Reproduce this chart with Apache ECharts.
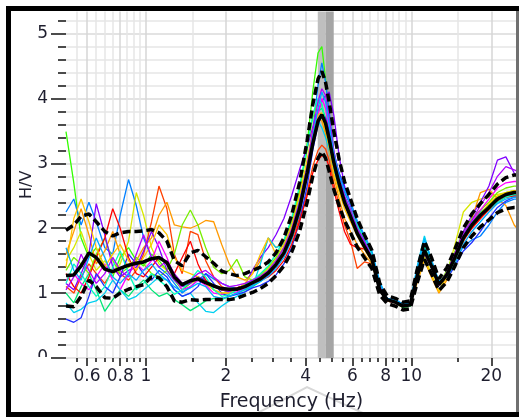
<!DOCTYPE html>
<html>
<head>
<meta charset="utf-8">
<script src="https://cdn.jsdelivr.net/npm/echarts@6/dist/echarts.min.js"></script>
<style>
  html, body { margin: 0; padding: 0; background: #fff; }
  #chart { width: 519px; height: 417px; }
</style>
</head>
<body>
<div id="chart"></div>
<script>
// Frequencies (Hz) at which every H/V curve is sampled
const freq = [0.50,0.535,0.57,0.61,0.65,0.70,0.75,0.80,0.86,0.92,
  0.98,1.05,1.12,1.20,1.28,1.37,1.47,1.57,1.68,1.80,
  1.93,2.06,2.20,2.36,2.52,2.70,2.89,3.09,3.31,3.54,
  3.79,4.05,4.25,4.45,4.60,4.75,4.90,5.10,5.35,5.60,
  5.90,6.25,6.65,7.10,7.60,8.10,8.70,9.30,9.90,10.5,
  11.2,11.9,12.7,13.6,14.6,15.7,16.9,18.2,19.6,21.1,
  22.7,24.4,25.0];

// Average H/V curve and its +/- one standard deviation curves
const meanHV = [1.27,1.28,1.42,1.62,1.55,1.37,1.33,1.38,1.43,1.46,
  1.48,1.53,1.55,1.47,1.25,1.13,1.19,1.22,1.16,1.11,
  1.07,1.06,1.06,1.10,1.16,1.22,1.31,1.44,1.62,1.90,
  2.30,2.85,3.30,3.65,3.75,3.62,3.38,3.02,2.68,2.40,
  2.18,1.92,1.72,1.52,1.05,0.90,0.86,0.80,0.82,1.25,
  1.66,1.42,1.13,1.28,1.55,1.85,2.05,2.20,2.32,2.45,
  2.52,2.55,2.55];
const upperHV = [1.97,2.05,2.18,2.22,2.10,1.95,1.88,1.93,1.95,1.95,
  1.96,1.98,1.93,1.80,1.50,1.42,1.62,1.66,1.56,1.46,
  1.34,1.30,1.27,1.30,1.35,1.40,1.48,1.62,1.85,2.20,
  2.70,3.35,3.90,4.30,4.42,4.25,3.95,3.50,3.05,2.72,
  2.45,2.15,1.90,1.66,1.15,0.96,0.92,0.86,0.88,1.35,
  1.80,1.55,1.22,1.39,1.68,2.00,2.22,2.38,2.52,2.68,
  2.78,2.82,2.82];
const lowerHV = [0.80,0.79,0.95,1.20,1.10,0.93,0.92,1.00,1.06,1.10,
  1.13,1.25,1.24,1.10,0.88,0.86,0.90,0.89,0.90,0.90,
  0.90,0.90,0.92,0.97,1.01,1.07,1.15,1.27,1.42,1.63,
  1.95,2.40,2.80,3.08,3.18,3.08,2.88,2.60,2.34,2.12,
  1.93,1.71,1.55,1.38,0.97,0.84,0.80,0.74,0.76,1.15,
  1.52,1.30,1.04,1.17,1.42,1.70,1.88,2.02,2.13,2.24,
  2.30,2.32,2.32];

// H/V curves of the individual time windows
const win01 = [3.49,2.70,1.85,1.55,1.70,1.40,1.25,1.55,1.70,1.50,
  1.42,1.60,1.50,1.35,1.20,1.05,1.15,1.25,1.20,1.12,
  1.05,1.02,1.05,1.12,1.18,1.25,1.35,1.50,1.70,2.05,
  2.55,3.30,4.10,4.70,4.80,4.30,3.70,3.10,2.70,2.45,
  2.25,2.00,1.80,1.55,1.08,0.88,0.85,0.78,0.80,1.22,
  1.60,1.40,1.12,1.30,1.58,1.90,2.10,2.22,2.35,2.48,
  2.55,2.58,2.58];
const win02 = [2.25,2.45,2.05,2.40,2.10,1.70,1.60,2.20,2.75,2.35,
  1.85,1.55,1.40,1.30,1.15,1.00,1.10,1.20,1.30,1.22,
  1.15,1.10,1.08,1.12,1.18,1.24,1.30,1.42,1.60,1.85,
  2.20,2.80,3.50,4.20,4.55,4.25,3.80,3.20,2.80,2.55,
  2.35,2.05,1.85,1.62,1.15,0.92,0.90,0.82,0.84,1.35,
  1.85,1.48,1.15,1.25,1.48,1.72,1.82,1.88,2.05,2.25,
  2.40,2.45,2.45];
const win03 = [1.50,1.70,1.95,1.60,1.35,1.50,1.30,1.45,1.80,2.55,
  2.20,1.70,1.45,1.35,1.22,1.10,1.15,1.20,1.15,1.05,
  1.00,1.02,1.05,1.10,1.15,1.25,1.38,1.52,1.72,2.00,
  2.40,2.95,3.40,3.70,3.72,3.50,3.25,2.92,2.62,2.38,
  2.15,1.92,1.72,1.50,1.05,0.88,0.85,0.80,0.83,1.20,
  1.55,1.30,1.02,1.30,1.75,2.25,2.40,2.45,2.48,2.52,
  2.55,2.58,2.58];
const win04 = [1.10,1.00,1.25,1.45,1.30,1.15,1.35,1.30,1.20,1.35,
  1.60,2.10,2.65,2.30,1.60,1.30,1.95,1.90,1.50,1.25,
  1.10,1.05,1.08,1.12,1.18,1.22,1.30,1.42,1.58,1.82,
  2.15,2.55,2.95,3.20,3.28,3.22,3.05,2.70,2.35,2.05,
  1.80,1.38,1.48,1.45,1.08,0.88,0.86,0.80,0.83,1.22,
  1.60,1.42,1.15,1.28,1.52,1.80,2.00,2.15,2.28,2.40,
  2.48,2.50,2.50];
const win05 = [1.60,1.95,2.30,1.90,1.45,1.65,1.95,1.60,1.40,1.50,
  1.70,1.85,2.20,2.40,2.05,2.02,2.00,2.05,2.12,2.10,
  1.75,1.45,1.25,1.20,1.30,1.50,1.85,1.70,1.80,2.00,
  2.45,3.00,3.45,3.70,3.65,3.45,3.20,2.80,2.45,2.15,
  1.95,1.75,1.60,1.45,1.05,0.88,0.85,0.78,0.82,1.15,
  1.50,1.25,1.00,1.20,1.45,1.80,2.15,2.55,2.60,2.45,
  2.35,2.05,2.00];
const win06 = [1.35,1.55,1.45,1.30,1.60,1.85,1.50,1.30,1.40,1.55,
  1.45,1.30,1.25,1.35,1.60,2.05,2.28,2.05,1.70,1.40,
  1.30,1.35,1.52,1.25,1.20,1.28,1.40,1.55,1.78,2.10,
  2.60,3.20,3.70,3.95,3.90,3.65,3.35,2.95,2.60,2.40,
  2.20,1.98,1.78,1.58,1.10,0.90,0.87,0.80,0.82,1.25,
  1.65,1.40,1.12,1.35,1.65,1.95,2.15,2.28,2.40,2.55,
  2.62,2.65,2.65];
const win07 = [1.00,0.85,1.10,1.30,1.05,0.72,0.90,1.05,0.95,1.10,
  1.20,1.05,0.95,1.00,0.90,0.82,0.73,0.80,0.88,0.92,
  0.90,0.95,1.00,1.05,1.10,1.18,1.28,1.42,1.62,1.95,
  2.40,3.00,3.50,3.80,3.85,3.70,3.45,3.08,2.75,2.48,
  2.25,1.98,1.78,1.55,1.10,0.90,0.86,0.78,0.80,1.28,
  1.68,1.45,1.15,1.30,1.58,1.90,2.10,2.25,2.35,2.45,
  2.50,2.52,2.52];
const win08 = [1.15,1.05,1.30,1.60,2.38,1.90,1.40,1.25,1.35,1.40,
  1.65,1.95,1.70,1.35,1.20,1.10,1.15,1.25,1.20,1.10,
  1.05,1.02,1.05,1.12,1.35,1.55,1.70,1.90,2.15,2.50,
  2.90,3.25,3.55,3.80,3.95,4.05,4.10,3.75,3.10,2.65,
  2.35,2.05,1.82,1.58,1.10,0.90,0.86,0.80,0.82,1.25,
  1.62,1.40,1.12,1.30,1.60,1.95,2.20,2.40,2.65,3.05,
  3.10,2.85,2.80];
const win09 = [1.20,1.30,1.15,1.05,1.25,1.45,1.20,1.05,1.30,1.45,
  1.35,1.50,1.80,1.55,1.25,1.05,1.10,1.20,1.12,1.00,
  0.98,1.00,1.02,1.08,1.15,1.20,1.28,1.42,1.60,1.88,
  2.28,2.80,3.30,3.75,4.00,3.85,3.50,3.05,2.70,2.42,
  2.20,1.95,1.75,1.52,1.05,0.88,0.85,0.80,0.82,1.22,
  1.62,1.40,1.12,1.30,1.58,1.88,2.10,2.28,2.45,2.62,
  2.70,2.72,2.72];
const win10 = [0.85,0.70,0.75,0.85,0.88,1.00,1.20,1.05,0.90,0.95,
  1.05,1.15,1.25,1.20,1.05,0.95,1.00,0.85,0.72,0.70,
  0.80,0.88,0.95,1.02,1.10,1.45,1.85,1.70,1.75,2.05,
  2.45,3.00,3.45,3.65,3.55,3.40,3.20,2.90,2.62,2.45,
  2.28,2.05,1.85,1.62,1.15,0.92,0.90,0.82,0.84,1.40,
  1.88,1.50,1.18,1.28,1.50,1.82,2.05,2.20,2.32,2.42,
  2.48,2.50,2.50];
const win11 = [0.60,0.55,0.62,0.95,1.30,1.10,1.00,1.25,1.60,1.45,
  1.30,1.20,1.35,1.25,1.05,0.95,1.00,1.10,1.30,1.15,
  1.00,0.95,0.98,1.02,1.08,1.12,1.18,1.28,1.45,1.70,
  2.10,2.65,3.20,3.60,3.75,3.70,3.50,3.15,2.85,2.62,
  2.40,2.10,1.88,1.60,1.12,0.92,0.90,0.82,0.84,1.28,
  1.70,1.45,1.15,1.22,1.42,1.65,1.78,1.95,2.15,2.32,
  2.42,2.48,2.48];
const win12 = [1.30,1.10,1.00,1.25,1.55,1.85,2.30,2.00,1.55,1.30,
  1.25,1.40,1.55,1.45,1.30,1.55,1.80,1.45,1.20,1.10,
  1.05,1.05,1.08,1.12,1.15,1.20,1.25,1.35,1.50,1.75,
  2.10,2.50,2.85,3.05,3.12,3.10,2.95,2.60,2.25,1.95,
  1.75,1.70,1.68,1.50,1.05,0.90,0.86,0.80,0.83,1.25,
  1.65,1.42,1.15,1.30,1.55,1.82,2.00,2.15,2.30,2.42,
  2.48,2.50,2.50];
const win13 = [1.40,2.15,2.45,2.10,1.70,1.40,1.60,1.75,1.50,1.35,
  1.55,1.75,2.05,1.90,1.55,1.35,1.30,1.25,1.15,1.05,
  1.00,1.00,1.05,1.15,1.30,1.60,1.85,1.60,1.75,2.05,
  2.50,3.05,3.50,3.75,3.78,3.55,3.25,2.85,2.55,2.30,
  2.10,1.88,1.68,1.48,1.05,0.88,0.86,0.80,0.82,1.18,
  1.52,1.28,1.02,1.25,1.52,1.85,2.05,2.22,2.38,2.50,
  2.55,2.58,2.58];
const win14 = [1.15,1.45,1.30,1.10,0.95,1.10,1.40,1.65,1.30,1.05,
  1.15,1.30,1.20,1.10,0.98,1.05,1.20,1.35,1.25,1.05,
  0.95,0.98,1.05,1.12,1.20,1.30,1.42,1.60,1.82,2.15,
  2.65,3.25,3.75,4.00,3.92,3.60,3.30,2.95,2.65,2.48,
  2.30,2.05,1.85,1.60,1.12,0.90,0.88,0.80,0.82,1.30,
  1.72,1.48,1.15,1.30,1.55,1.88,2.08,2.22,2.30,2.40,
  2.48,2.52,2.52];
const win15 = [1.05,1.25,1.60,1.35,1.15,1.30,1.55,1.35,1.25,1.60,
  1.90,1.55,1.40,1.50,1.30,1.15,1.20,1.30,1.35,1.25,
  1.15,1.10,1.12,1.15,1.20,1.26,1.35,1.50,1.70,1.98,
  2.40,2.95,3.50,3.95,4.15,4.05,3.70,3.20,2.78,2.50,
  2.28,2.00,1.80,1.55,1.10,0.90,0.86,0.80,0.82,1.22,
  1.62,1.40,1.12,1.32,1.62,1.92,2.12,2.35,2.55,2.80,
  2.95,2.90,2.88];
const win16 = [1.70,1.35,1.20,1.55,1.85,1.55,1.25,1.15,1.30,1.20,
  1.35,1.45,1.30,1.20,1.10,1.02,1.08,1.15,1.10,0.95,
  0.92,0.95,1.00,1.06,1.12,1.18,1.26,1.38,1.55,1.82,
  2.25,2.85,3.40,3.85,4.10,3.95,3.60,3.15,2.80,2.58,
  2.38,2.12,1.90,1.65,1.18,0.92,0.90,0.83,0.85,1.38,
  1.82,1.52,1.18,1.25,1.45,1.75,1.95,2.10,2.25,2.38,
  2.45,2.48,2.48];

const windows = [win01, win02, win03, win04, win05, win06, win07, win08,
                 win09, win10, win11, win12, win13, win14, win15, win16];
const windowColors = ['#33ff00', '#0080ff', '#d8e800', '#ff4000', '#ff9900',
                      '#77ee00', '#00e676', '#8000ff', '#ff00ff', '#00d0f0',
                      '#2030ff', '#ff0000', '#ffc400', '#00ffbf', '#b000ff',
                      '#00aaff'];

// Axis ticks
const xMajorTicks = [0.6, 0.8, 1, 2, 4, 6, 8, 10, 20];
const xMinorTicks = [0.55, 0.65, 0.7, 0.75, 0.85, 0.9, 0.95, 1.5, 2.5, 3, 3.5,
                     4.5, 5, 5.5, 6.5, 7, 7.5, 8.5, 9, 9.5, 15, 25];
const yMajorTicks = [0, 1, 2, 3, 4, 5];
const yMinorTicks = [0.2, 0.4, 0.6, 0.8, 1.2, 1.4, 1.6, 1.8, 2.2, 2.4, 2.6, 2.8,
                     3.2, 3.4, 3.6, 3.8, 4.2, 4.4, 4.6, 4.8, 5.2];

// Peak-frequency band (Hz): start, split, end
const f0Band = [4.44, 4.75, 5.1];

const FONT = 'DejaVu Sans';
const TEXT = '#1e1e2e';

const pairs = arr => freq.map((f, i) => [f, arr[i]]);

const series = windows.map((w, k) => ({
  type: 'line',
  name: 'window ' + (k + 1),
  data: pairs(w),
  symbol: 'none',
  z: 2,
  lineStyle: { color: windowColors[k], width: 1.3 },
  silent: true
}));

series[0].markArea = {
  silent: true,
  z: 1,
  label: { show: false },
  data: [
    [{ xAxis: f0Band[0], itemStyle: { color: '#bfbfbf' } }, { xAxis: f0Band[1] }],
    [{ xAxis: f0Band[1], itemStyle: { color: '#a5a5a5' } }, { xAxis: f0Band[2] }]
  ]
};

const blackLine = (name, arr, dashed) => ({
  type: 'line',
  name,
  data: pairs(arr),
  symbol: 'none',
  z: 5,
  silent: true,
  lineStyle: { color: '#000', width: 3.5, type: dashed ? [8, 4] : 'solid' }
});
series.push(blackLine('lower', lowerHV, true));
series.push(blackLine('upper', upperHV, true));
series.push(blackLine('mean', meanHV, false));

const fmtX = v => String(+(+v).toPrecision(3));

const chart = echarts.init(document.getElementById('chart'), null, { renderer: 'canvas' });
chart.setOption({
  animation: false,
  backgroundColor: '#fff',
  grid: { left: 66, right: 2, top: 11.5, bottom: 57.5, containLabel: false },
  xAxis: [
    {
      type: 'log', logBase: 10, min: 0.5, max: 25, position: 'bottom',
      axisLine: { show: false },
      axisTick: { show: true, customValues: xMajorTicks, length: 8, lineStyle: { color: '#111', width: 1.5 } },
      axisLabel: { customValues: xMajorTicks, formatter: fmtX, fontFamily: FONT, fontSize: 17, color: TEXT, margin: 10 },
      splitLine: { show: true, lineStyle: { color: '#d6d6d6', width: 1.5 } },
      name: 'Frequency (Hz)', nameLocation: 'middle', nameGap: 35, nameMoveOverlap: false,
      nameTextStyle: { fontFamily: FONT, fontSize: 19, color: TEXT }
    },
    {
      type: 'log', logBase: 10, min: 0.5, max: 25, position: 'bottom',
      axisLine: { show: false },
      axisTick: { show: true, customValues: xMinorTicks, length: 4, lineStyle: { color: '#111', width: 1.5 } },
      axisLabel: { show: false },
      splitLine: { show: true, lineStyle: { color: '#e6e6e6', width: 1.5 } }
    }
  ],
  yAxis: [
    {
      type: 'value', min: 0, max: 5.34, position: 'left',
      axisLine: { show: false },
      axisTick: { show: true, customValues: yMajorTicks, length: 15, lineStyle: { color: '#111', width: 1.5 } },
      axisLabel: { customValues: yMajorTicks, fontFamily: FONT, fontSize: 17, color: TEXT, margin: 18 },
      splitLine: { show: true, lineStyle: { color: '#dadada', width: 1.5 } },
      name: 'H/V', nameLocation: 'middle', nameGap: 31, nameRotate: 90, nameMoveOverlap: false,
      nameTextStyle: { fontFamily: FONT, fontSize: 16, color: TEXT }
    },
    {
      type: 'value', min: 0, max: 5.34, position: 'left',
      axisLine: { show: false },
      axisTick: { show: true, customValues: yMinorTicks, length: 8, lineStyle: { color: '#111', width: 1.5 } },
      axisLabel: { show: false },
      splitLine: { show: true, lineStyle: { color: '#e6e6e6', width: 1.5 } }
    }
  ],
  series,
  graphic: [
    // the "0" label sits on the clip edge of the plot frame
    { type: 'rect', shape: { x: 28, y: 357, width: 22, height: 12 }, style: { fill: '#fff' }, z: 50, silent: true },
    // faint chevron behind the axis title
    { type: 'polyline', shape: { points: [[250, 417], [307, 387], [367, 415]] },
      style: { stroke: '#d8d8d8', lineWidth: 2, fill: null }, z: -1, silent: true },
    // panel frame
    { type: 'rect', shape: { x: 8.5, y: 8.5, width: 540, height: 406 },
      style: { fill: null, stroke: '#000', lineWidth: 5 }, z: 100, silent: true },
    { type: 'line', shape: { x1: 517.5, y1: 11, x2: 517.5, y2: 412 },
      style: { stroke: '#707070', lineWidth: 3 }, z: 100, silent: true }
  ]
});
</script>
</body>
</html>
